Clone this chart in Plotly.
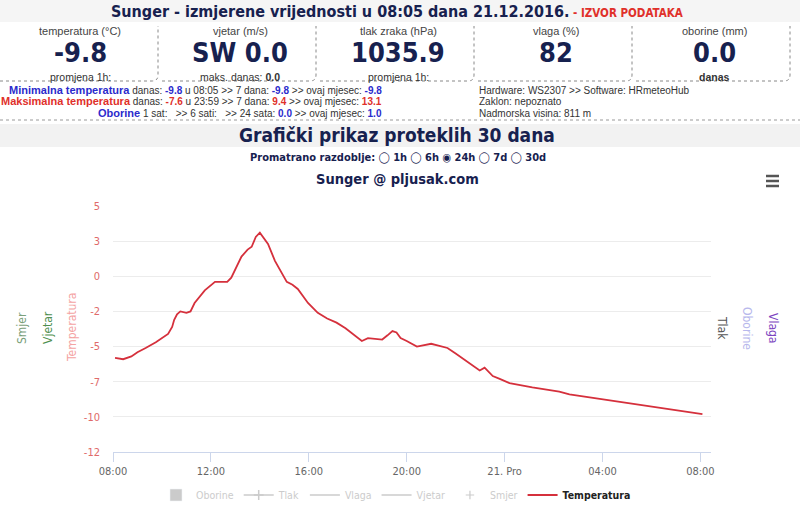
import plotly.graph_objects as go

# ---------------- data ----------------
times = [
    "2016-12-20 08:05", "2016-12-20 08:25", "2016-12-20 08:45", "2016-12-20 09:00",
    "2016-12-20 09:20", "2016-12-20 09:45", "2016-12-20 10:15", "2016-12-20 10:25",
    "2016-12-20 10:30", "2016-12-20 10:37", "2016-12-20 10:45", "2016-12-20 11:00",
    "2016-12-20 11:10", "2016-12-20 11:20", "2016-12-20 11:45", "2016-12-20 12:10",
    "2016-12-20 12:40", "2016-12-20 12:50", "2016-12-20 13:15", "2016-12-20 13:30",
    "2016-12-20 13:40", "2016-12-20 13:50", "2016-12-20 14:00", "2016-12-20 14:07",
    "2016-12-20 14:20", "2016-12-20 14:37", "2016-12-20 14:50", "2016-12-20 15:06",
    "2016-12-20 15:20", "2016-12-20 15:33", "2016-12-20 15:58", "2016-12-20 16:22",
    "2016-12-20 16:45", "2016-12-20 17:08", "2016-12-20 17:30", "2016-12-20 17:53",
    "2016-12-20 18:10", "2016-12-20 18:25", "2016-12-20 19:00", "2016-12-20 19:13",
    "2016-12-20 19:25", "2016-12-20 19:35", "2016-12-20 19:45", "2016-12-20 20:00",
    "2016-12-20 20:25", "2016-12-20 21:00", "2016-12-20 21:40", "2016-12-20 22:00",
    "2016-12-20 22:30", "2016-12-20 22:59", "2016-12-20 23:11", "2016-12-20 23:31",
    "2016-12-20 23:48", "2016-12-21 00:12", "2016-12-21 01:08", "2016-12-21 02:14",
    "2016-12-21 02:39", "2016-12-21 08:05",
]
temperature = [
    -5.8, -5.9, -5.7, -5.4,
    -5.1, -4.7, -4.1, -3.6,
    -3.1, -2.7, -2.5, -2.6,
    -2.5, -1.9, -1.0, -0.4,
    -0.4, -0.1, 1.4, 1.9,
    2.1, 2.8, 3.1, 2.8,
    2.3, 1.1, 0.4, -0.4,
    -0.6, -0.9, -1.9, -2.6,
    -3.0, -3.3, -3.7, -4.2,
    -4.6, -4.4, -4.5, -4.2,
    -3.9, -4.0, -4.4, -4.6,
    -5.0, -4.8, -5.1, -5.5,
    -6.1, -6.7, -6.5, -7.1,
    -7.3, -7.6, -7.9, -8.2,
    -8.4, -9.8,
]
# series switched off in the legend (no visible values)
hidden_series = ["Oborine", "Tlak", "Vlaga", "Vjetar", "Smjer"]
hidden_x = [times[0]]
hidden_y = [None]

ytick_vals = [5, 2.5, 0, -2.5, -5, -7.5, -10, -12.5]
ytick_text = ["5", "3", "0", "-2", "-5", "-7", "-10", "-12"]
xtick_vals = ["2016-12-20 08:00", "2016-12-20 12:00", "2016-12-20 16:00",
              "2016-12-20 20:00", "2016-12-21 00:00", "2016-12-21 04:00",
              "2016-12-21 08:00"]
xtick_text = ["08:00", "12:00", "16:00", "20:00", "21. Pro", "04:00", "08:00"]
x_range = ["2016-12-20 08:00", "2016-12-21 08:26"]

box_labels = ["temperatura (°C)", "vjetar (m/s)", "tlak zraka (hPa)", "vlaga (%)", "oborine (mm)"]
box_values = ["-9.8", "SW 0.0", "1035.9", "82", "0.0"]
box_footers = ["promjena 1h:", "maks. danas: <b>0.0</b>", "promjena 1h:", "", "<b>danas</b>"]

left_axis_titles = ["Smjer", "Vjetar", "Temperatura"]
right_axis_titles = ["Tlak", "Oborine", "Vlaga"]

# ---------------- geometry helpers (page pixels -> paper) ----------------
L, R, T, B = 113, 89, 206, 59
W, H = 800 - L - R, 511 - T - B
def px(x):
    return (x - L) / W
def py(y):
    return (511 - B - y) / H

NAVY = "#17214f"
CHART_FONT = "Liberation Sans Narrow, DejaVu Sans Condensed, sans-serif"
HEAD_FONT = "DejaVu Sans Condensed, Liberation Sans Narrow, sans-serif"
TXT_FONT = "Liberation Sans, Arial, sans-serif"

fig = go.Figure()

def grey(name):
    return f"<span style='color:#999'>{name}</span>"

fig.add_trace(go.Bar(x=hidden_x, y=hidden_y, name=grey(hidden_series[0]),
                     marker_color="#999", visible="legendonly"))
fig.add_trace(go.Scatter(x=hidden_x, y=hidden_y, name=grey(hidden_series[1]),
                         mode="lines+markers", line=dict(color="#999", width=1.5),
                         marker=dict(symbol="cross-thin", size=7, line=dict(color="#999", width=1.5)),
                         visible="legendonly"))
fig.add_trace(go.Scatter(x=hidden_x, y=hidden_y, name=grey(hidden_series[2]),
                         mode="lines", line=dict(color="#999", width=1.5), visible="legendonly"))
fig.add_trace(go.Scatter(x=hidden_x, y=hidden_y, name=grey(hidden_series[3]),
                         mode="lines", line=dict(color="#999", width=1.5), visible="legendonly"))
fig.add_trace(go.Scatter(x=hidden_x, y=hidden_y, name=grey(hidden_series[4]),
                         mode="markers", marker=dict(symbol="cross-thin", size=6, line=dict(color="#999", width=1.2)),
                         visible="legendonly"))
fig.add_trace(go.Scatter(x=times, y=temperature, name="<b><span style='color:#222'>Temperatura</span></b>",
                         mode="lines", line=dict(color="#d5303c", width=1.8), hoverinfo="x+y"))

shapes = []
annotations = []

def ann(x, y, text, size, color, family, xanchor="center", **kw):
    d = dict(xref="paper", yref="paper", x=px(x), y=py(y), text=text, showarrow=False,
             xanchor=xanchor, yanchor="middle", font=dict(family=family, size=size, color=color))
    d.update(kw)
    annotations.append(d)

# background bands
shapes.append(dict(type="rect", xref="paper", yref="paper", x0=px(0), x1=px(800), y0=py(0), y1=py(22),
                   fillcolor="#f5f5f5", line_width=0, layer="below"))
shapes.append(dict(type="rect", xref="paper", yref="paper", x0=px(0), x1=px(800), y0=py(124), y1=py(147),
                   fillcolor="#f2f2f2", line_width=0, layer="below"))
shapes.append(dict(type="line", xref="paper", yref="paper", x0=px(0), x1=px(800), y0=py(120), y1=py(120),
                   line=dict(color="#999", width=1, dash="dot")))

# boxes
box_left = [0, 162, 320, 478, 636]
box_right = [158, 316, 474, 632, 790]
for i in range(5):
    xl, xr = box_left[i], box_right[i]
    path = (f"M {px(xl)},{py(81)} L {px(xr-6)},{py(81)} Q {px(xr)},{py(81)} {px(xr)},{py(75)} "
            f"L {px(xr)},{py(26)}")
    shapes.append(dict(type="path", xref="paper", yref="paper", path=path,
                       line=dict(color="#888", width=1, dash="dot")))
    cx = (xl + xr) / 2 + 1
    ann(cx, 31, box_labels[i], 11, "#444", TXT_FONT)
    ann(cx, 52, f"<b>{box_values[i]}</b>", 27, NAVY, HEAD_FONT)
    if box_footers[i]:
        ann(cx, 77, box_footers[i], 10.5, "#333", TXT_FONT)

# header title
ann(397, 11, (f"<b>Sunger - izmjerene vrijednosti u 08:05 dana 21.12.2016.</b>"
              f"<span style='font-size:11.5px;color:#e0302a'><b> - IZVOR PODATAKA</b></span>"),
    16, NAVY, HEAD_FONT)

# statistics rows
BLUE, RED = "#2b2bcc", "#e0302a"
def b(v, c):
    return f"<b><span style='color:{c}'>{v}</span></b>"
stat_rows = [
    (f"<b><span style='color:{BLUE};font-size:11px'>Minimalna temperatura</span></b> danas: {b('-9.8', BLUE)}"
     f" u 08:05 &gt;&gt; 7 dana: {b('-9.8', BLUE)} &gt;&gt; ovaj mjesec: {b('-9.8', BLUE)}", 90),
    (f"<b><span style='color:{RED};font-size:11px'>Maksimalna temperatura</span></b> danas: {b('-7.6', RED)}"
     f" u 23:59 &gt;&gt; 7 dana: {b('9.4', RED)} &gt;&gt; ovaj mjesec: {b('13.1', RED)}", 101),
    (f"<b><span style='color:{BLUE};font-size:11px'>Oborine</span></b> 1 sat:\u00a0\u00a0 &gt;&gt; 6 sati:\u00a0\u00a0 &gt;&gt; 24 sata: "
     f"{b('0.0', BLUE)} &gt;&gt; ovaj mjesec: {b('1.0', BLUE)}", 113),
]
for txt, yy in stat_rows:
    ann(384, yy, txt, 10, "#333", TXT_FONT, xanchor="right")
info_rows = [("Hardware: WS2307 &gt;&gt; Software: HRmeteoHub", 90), ("Zaklon: nepoznato", 101),
             ("Nadmorska visina: 811 m", 113)]
for txt, yy in info_rows:
    ann(477, yy, txt, 10, "#333", TXT_FONT, xanchor="left")

# section title
ann(397, 135, "<b>Grafički prikaz proteklih 30 dana</b>", 19, NAVY, HEAD_FONT)
ann(398, 157, "<b>Promatrano razdoblje: ◯ 1h ◯ 6h ◉ 24h ◯ 7d ◯ 30d</b>", 11, NAVY, HEAD_FONT)
ann(397, 179, "<b>Sunger @ pljusak.com</b>", 14.5, NAVY, HEAD_FONT)

# hamburger menu
for yy in (176, 181, 186):
    shapes.append(dict(type="line", xref="paper", yref="paper", x0=px(766), x1=px(779), y0=py(yy), y1=py(yy),
                       line=dict(color="#555", width=2.5)))

# axis titles
left_cols = ["#7aa07a", "#4f8f4f", "#f4a3a3"]
left_x = [22, 48, 72]
for t, c, xx in zip(left_axis_titles, left_cols, left_x):
    ann(xx, 328, t, 12, c, CHART_FONT, textangle=-90)
right_cols = ["#555555", "#b8b8ec", "#7b45c0"]
right_x = [722, 747, 773]
for t, c, xx in zip(right_axis_titles, right_cols, right_x):
    ann(xx, 328, t, 12, c, CHART_FONT, textangle=90)

fig.update_layout(
    width=800, height=511,
    margin=dict(l=L, r=R, t=T, b=B, pad=0, autoexpand=False),
    paper_bgcolor="white", plot_bgcolor="white",
    showlegend=True,
    legend=dict(orientation="h", x=px(396), xanchor="center", y=py(495), yanchor="middle",
                font=dict(family=CHART_FONT, size=10.5, color="#222"), itemclick=False,
                traceorder="normal", bgcolor="rgba(0,0,0,0)"),
    xaxis=dict(type="date", range=x_range, tickvals=xtick_vals, ticktext=xtick_text,
               showgrid=False, showline=True, linecolor="#ccd6eb", linewidth=1,
               ticks="outside", ticklen=9, tickcolor="#ccd6eb",
               tickfont=dict(family=CHART_FONT, size=11, color="#666"), zeroline=False, fixedrange=True),
    yaxis=dict(range=[-12.5, 5], tickvals=ytick_vals, ticktext=ytick_text,
               showgrid=True, gridcolor="#ececec", gridwidth=1, zeroline=False, showline=False,
               tickfont=dict(family=CHART_FONT, size=11, color="#e06a6a"), ticks="", ticklabelstandoff=12,
               fixedrange=True),
    shapes=shapes,
    annotations=annotations,
)

fig.write_html("out.html", config={"displayModeBar": False})
